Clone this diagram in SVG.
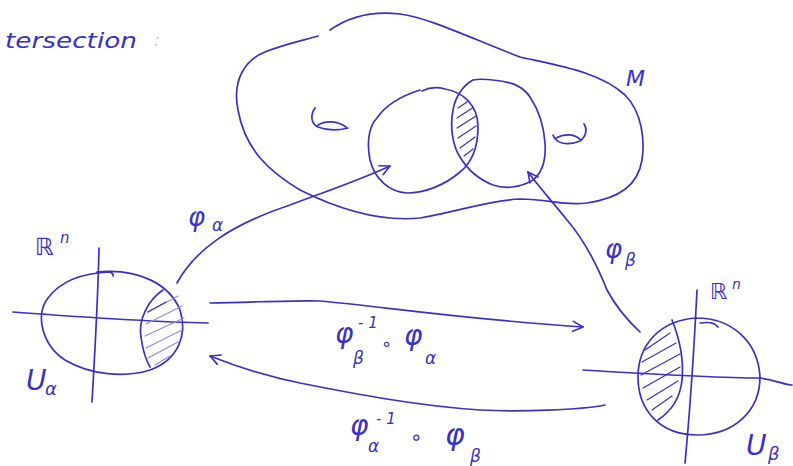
<svg xmlns="http://www.w3.org/2000/svg" width="793" height="466" viewBox="0 0 793 466">
<style>
.s{fill:none;stroke:#3a30c8;stroke-width:1.7;stroke-linecap:round;stroke-linejoin:round}
.h{fill:none;stroke:#8f8fe0;stroke-width:1.3;stroke-linecap:round}
.hd{fill:none;stroke:#3a30c8;stroke-width:1.2;stroke-linecap:round}
.t{fill:#3a30c8;font-family:"DejaVu Sans",sans-serif;font-style:italic}
</style>
<defs>
<marker id="ah" viewBox="0 0 12 12" refX="11" refY="6" markerWidth="12" markerHeight="12" markerUnits="userSpaceOnUse" orient="auto">
<path d="M1,1 L11,6 L1,11" fill="none" stroke="#3a30c8" stroke-width="1.6" stroke-linecap="round" stroke-linejoin="round"/>
</marker>
<clipPath id="cA"><path d="M440,88 C462,92 478,104 478,127 C478,150 470,164 460,172 C445,185 425,193 407,193 C390,192 375,180 370,160 C366,140 370,125 377,118 C385,106 398,97 420,90 Z"/></clipPath>
<clipPath id="cUa"><path d="M163,290 C148,300 138,320 141,337 C143,352 147,362 150,367 L200,367 L200,285 Z"/></clipPath>
<clipPath id="cUb"><path d="M672,318 C680,340 684,360 682,380 C680,400 670,412 658,420 L630,420 L630,318 Z"/></clipPath>
</defs>

<text class="t" x="5" y="48" font-size="22" textLength="132" lengthAdjust="spacingAndGlyphs">tersection</text>
<text class="t" x="154" y="46" font-size="18" fill-opacity="0.3">:</text>

<g id="M">
<path class="s" d="M330,30 C350,16 375,11 400,14 C430,18 470,38 520,57 C560,66 600,72 625,95 C642,112 645,140 642,160 C638,185 620,198 587,203 C560,206 550,199 520,199 C490,200 460,211 420,218 C380,222 340,210 300,190 C270,172 245,150 238,110 C232,80 245,60 265,52 C285,44 305,40 318,36"/>
<path class="s" d="M315,108 C310,115 311,124 318,127 C328,131 340,130 348,128 M318,125 C326,120 338,121 346,127"/>
<path class="s" d="M553,135 C556,144 568,146 580,141 C587,136 587,128 584,124 M556,138 C565,133 575,134 581,140"/>
<text class="t" x="626" y="86" font-size="22">M</text>
<g id="Valpha">
<path class="s" d="M422,91 C430,87 438,87 445,89 C462,92 478,104 478,127 C478,150 470,164 460,172 C445,185 425,193 407,193 C390,192 375,180 370,160 C366,140 370,125 377,118 C385,106 398,97 420,90"/>
</g>
<g id="Vbeta">
<path class="s" d="M473,80 C462,86 455,98 453,110 C450,125 452,145 460,157 C466,167 475,178 493,185 C505,189 520,188 533,180 C543,172 546,158 545,143 C544,128 540,112 530,97 C524,88 515,82 493,80 C485,79 478,79 473,80"/>
</g>
<g clip-path="url(#cA)">
<path class="hd" d="M458,108 L470,100 M457,118 L474,107 M457,128 L476,116 M458,138 L476,126 M460,148 L475,137 M464,156 L473,149"/>
</g>
</g>

<g id="Ualpha">
<path class="s" d="M97,272 C140,268 170,285 180,310 C188,335 178,360 150,370 C125,378 90,375 65,360 C42,345 35,315 48,298 C60,282 80,273 110,272 C112,273 114,275 113,276"/>
<path class="s" d="M99,248 C98,300 95,350 92,402"/>
<path class="s" d="M13,312 C80,317 150,322 208,323"/>
<path class="s" d="M163,290 C148,300 138,320 141,337 C143,352 147,362 150,367"/>
<g clip-path="url(#cUa)">
<path class="h" d="M148,312 L178,296 M146,324 L182,306 M145,336 L184,318 M146,348 L182,330 M148,358 L178,342 M155,365 L170,356"/>
<path class="hd" d="M148,312 L166,302"/>
</g>
<text class="t" x="35" y="255" font-size="24" font-style="normal">ℝ</text>
<text class="t" x="60" y="243" font-size="15">n</text>
<text class="t" x="26" y="390" font-size="28">U</text>
<text class="t" x="45" y="395" font-size="18">α</text>
</g>

<g id="Ubeta">
<path class="s" d="M697,318 C730,318 758,340 760,377 C760,410 735,435 697,435 C660,435 638,410 638,377 C638,345 660,320 697,318 M700,323 C708,322 714,322 718,327"/>
<path class="s" d="M697,290 C694,350 690,410 685,463"/>
<path class="s" d="M583,370 C650,374 720,378 760,378 C775,380 785,385 792,385"/>
<path class="s" d="M672,320 C680,340 684,360 682,380 C680,400 670,412 658,420"/>
<g clip-path="url(#cUb)">
<path class="hd" d="M645,350 L670,333 M642,362 L676,343 M641,375 L680,354 M643,388 L680,367 M647,400 L678,381 M652,410 L672,396"/>
</g>
<text class="t" x="710" y="299" font-size="22" font-style="normal">ℝ</text>
<text class="t" x="732" y="289" font-size="14">n</text>
<text class="t" x="746" y="455" font-size="28">U</text>
<text class="t" x="768" y="460" font-size="18">β</text>
</g>

<g id="connectors">
<path class="s" marker-end="url(#ah)" d="M177,283 C195,250 230,225 290,205 C330,190 360,180 390,166"/>
<path class="s" marker-end="url(#ah)" d="M640,332 C625,318 615,305 607,290 C595,260 580,235 567,220 C555,205 540,188 528,172"/>
<path class="s" marker-end="url(#ah)" d="M210,303 C260,302 300,300 320,301 C380,306 450,318 583,327"/>
<path class="s" marker-end="url(#ah)" d="M605,405 C580,410 520,412 480,410 C420,406 360,395 300,383 C270,377 240,368 210,356"/>
</g>

<g id="labels">
<text class="t" x="188" y="226" font-size="26">φ</text>
<text class="t" x="212" y="231" font-size="17">α</text>
<text class="t" x="605" y="258" font-size="26">φ</text>
<text class="t" x="625" y="266" font-size="17">β</text>
<text class="t" x="335" y="343" font-size="28">φ</text>
<text class="t" x="353" y="364" font-size="17">β</text>
<text class="t" x="358" y="328" font-size="15">- 1</text>
<text class="t" x="381" y="350" font-size="18" font-style="normal">∘</text>
<text class="t" x="404" y="345" font-size="28">φ</text>
<text class="t" x="425" y="364" font-size="17">α</text>
<text class="t" x="350" y="435" font-size="28">φ</text>
<text class="t" x="368" y="452" font-size="17">α</text>
<text class="t" x="376" y="424" font-size="15">- 1</text>
<text class="t" x="410" y="444" font-size="20" font-style="normal">∘</text>
<text class="t" x="445" y="445" font-size="30">φ</text>
<text class="t" x="470" y="462" font-size="17">β</text>
</g>
</svg>
